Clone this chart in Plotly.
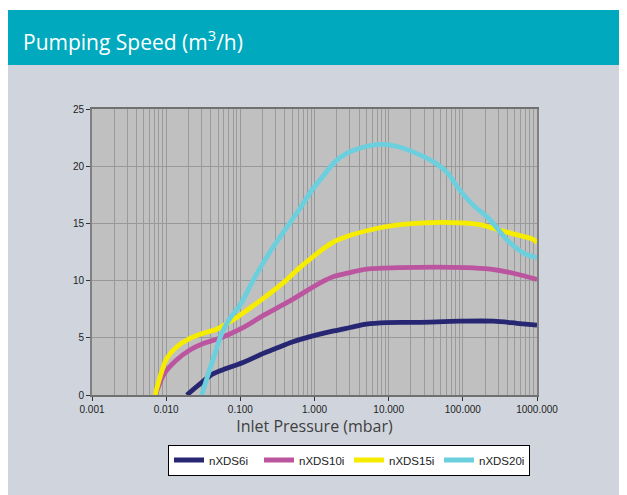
import plotly.graph_objects as go

# --- data (pressure in mbar, speed in m3/h) ---
p_6i = [0.019, 0.0288, 0.0427, 0.066, 0.115, 0.182, 0.309, 0.513, 0.871, 1.07, 1.82, 3.02, 5.01, 9.33, 24, 91.2, 257, 537, 1000]
s_6i = [0, 1.0, 1.84, 2.33, 2.91, 3.5, 4.1, 4.65, 5.1, 5.25, 5.6, 5.9, 6.2, 6.33, 6.35, 6.45, 6.45, 6.27, 6.1]

p_10i = [0.0071, 0.0083, 0.0095, 0.0138, 0.0209, 0.0316, 0.0479, 0.0724, 0.115, 0.21, 0.46, 1.16, 1.82, 3.02, 5.01, 14.1, 112, 234, 479, 1000]
s_10i = [0, 1.1, 1.9, 3.06, 3.93, 4.5, 4.87, 5.33, 5.97, 7.0, 8.2, 9.76, 10.35, 10.7, 11.0, 11.14, 11.14, 11.0, 10.64, 10.1]

p_15i = [0.0071, 0.0083, 0.0102, 0.0138, 0.0209, 0.0316, 0.0479, 0.0724, 0.1, 0.2, 0.41, 0.6, 0.96, 1.72, 3.2, 7.33, 14.3, 29.5, 91.2, 170, 316, 537, 891, 1000]
s_15i = [0, 1.6, 3.2, 4.2, 4.95, 5.4, 5.74, 6.4, 7.0, 8.4, 10.0, 11.0, 12.1, 13.3, 14.0, 14.6, 14.9, 15.05, 15.05, 14.9, 14.4, 14.0, 13.6, 13.3]

p_20i = [0.0302, 0.0372, 0.0457, 0.0562, 0.0724, 0.1, 0.148, 0.234, 0.342, 0.635, 0.92, 1.26, 1.9, 2.88, 4.79, 8.13, 13.5, 24, 39.8, 60.3, 91.2, 138, 234, 389, 661, 1000]
s_20i = [0, 1.9, 3.64, 5.4, 6.7, 7.9, 10.0, 12.2, 13.8, 16.3, 17.9, 19.0, 20.4, 21.2, 21.7, 21.9, 21.7, 21.1, 20.4, 19.5, 17.9, 16.6, 15.3, 13.6, 12.4, 12.0]

series_names = ["nXDS6i", "nXDS10i", "nXDS15i", "nXDS20i"]
series_p = [p_6i, p_10i, p_15i, p_20i]
series_s = [s_6i, s_10i, s_15i, s_20i]
series_colors = ["#262673", "#bb559f", "#f5ec00", "#6bcfdd"]

x_tickvals = [0.001, 0.01, 0.1, 1, 10, 100, 1000]
x_ticktext = ["0.001", "0.010", "0.100", "1.000", "10.000", "100.000", "1000.000"]
y_tickvals = [0, 5, 10, 15, 20, 25]

fig = go.Figure()
for name, px, sy, col in zip(series_names, series_p, series_s, series_colors):
    fig.add_trace(go.Scatter(x=px, y=sy, name=name, mode="lines",
                             line=dict(color=col, width=4.8, shape="spline", smoothing=0.9)))

# page body has an 8px margin; the figure fills the rest of the 627x495 window
OFF = 8
W, H = 627 - OFF, 495 - OFF
L, R, T, B = 84, 90, 101, 100
pw, ph = W - L - R, H - T - B

def px2x(x):  # screenshot x -> paper x
    return (x - OFF - L) / pw

def py2y(y):  # screenshot y -> paper y
    return (H - B - (y - OFF)) / ph

fig.update_layout(
    width=W, height=H,
    margin=dict(l=L, r=R, t=T, b=B),
    paper_bgcolor="#d0d5dd",
    plot_bgcolor="#c0c0c0",
    showlegend=True,
    legend=dict(orientation="h", x=px2x(349), xanchor="center", y=py2y(460), yanchor="middle",
                bgcolor="white", bordercolor="black", borderwidth=1,
                font=dict(family="Liberation Sans", size=11.5, color="#222"),
                itemwidth=30, tracegroupgap=0, entrywidth=45),
    shapes=[
        dict(type="rect", xref="paper", yref="paper", x0=px2x(-5), x1=px2x(640), y0=py2y(10), y1=py2y(-5),
             fillcolor="white", line=dict(width=0), layer="below"),
        dict(type="rect", xref="paper", yref="paper", x0=px2x(-5), x1=px2x(7), y0=py2y(500), y1=py2y(-5),
             fillcolor="white", line=dict(width=0), layer="below"),
        dict(type="rect", xref="paper", yref="paper", x0=px2x(7), x1=px2x(640), y0=py2y(65), y1=py2y(10),
             fillcolor="#00a9bd", line=dict(width=0), layer="below"),
    ],
    annotations=[
        dict(text="Pumping Speed (m<sup>3</sup>/h)", xref="paper", yref="paper",
             x=px2x(21), xanchor="left", y=py2y(40), yanchor="middle", showarrow=False,
             font=dict(family="Open Sans", size=21, color="white")),
    ],
)

fig.update_xaxes(
    type="log", range=[-3, 3],
    tickvals=x_tickvals, ticktext=x_ticktext,
    tickfont=dict(family="Liberation Sans", size=10, color="#222"),
    ticks="outside", ticklen=4, tickcolor="#333",
    showgrid=True, gridcolor="#999999", gridwidth=1,
    minor=dict(showgrid=True, gridcolor="#9a9a9a", gridwidth=1, dtick="D1", ticks=""),
    showline=True, linecolor="#707070", linewidth=2, mirror=True,
    title=dict(text="Inlet Pressure (mbar)", standoff=6,
               font=dict(family="Open Sans", size=16, color="#404040")),
    zeroline=False,
)
fig.update_yaxes(
    range=[0, 25], tickvals=y_tickvals,
    tickfont=dict(family="Liberation Sans", size=10, color="#222"),
    ticks="outside", ticklen=4, tickcolor="#333",
    showgrid=True, gridcolor="#999999", gridwidth=1,
    showline=True, linecolor="#808080", linewidth=2, mirror=True,
    zeroline=False,
)

fig.write_html("out.html")
